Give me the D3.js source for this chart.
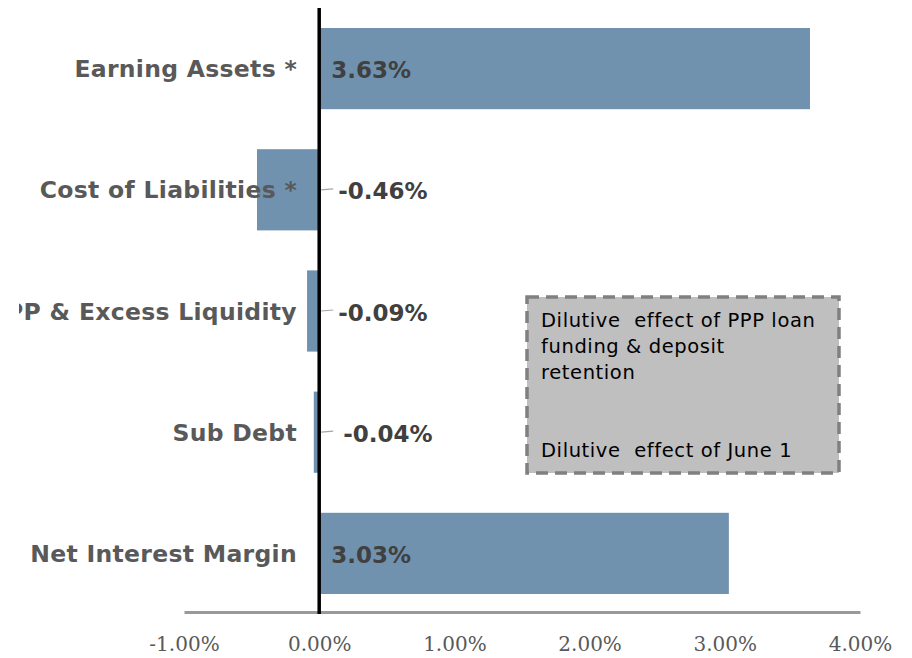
<!DOCTYPE html>
<html>
<head>
<meta charset="utf-8">
<script src="https://cdn.jsdelivr.net/npm/d3@7"></script>
<style>
  body { margin: 0; background: #fff; }
  svg { display: block; }
</style>
</head>
<body>
<svg id="chart"></svg>
<script>
// data
const categories = ['Earning Assets *', 'Cost of Liabilities *', 'PPP & Excess Liquidity', 'Sub Debt', 'Net Interest Margin'];
const values = [3.63, -0.46, -0.09, -0.04, 3.03];
const labels = ['3.63%', '-0.46%', '-0.09%', '-0.04%', '3.03%'];
const ticks = [-1, 0, 1, 2, 3, 4];
const noteLines = ['Dilutive  effect of PPP loan', 'funding & deposit', 'retention', '', '', 'Dilutive  effect of June 1'];

const width = 912, height = 658;
const svg = d3.select('#chart').attr('width', width).attr('height', height);

const x = d3.scaleLinear().domain([-1, 4]).range([184, 860]);
const y = d3.scaleBand().domain(categories).range([8, 614]).paddingInner(0.33).paddingOuter(0.165);

// clip so the long label gets cut like the original
svg.append('clipPath').attr('id', 'clip')
  .append('rect').attr('x', 19).attr('y', 0).attr('width', width).attr('height', height);

// bars
svg.selectAll('rect.bar')
  .data(values)
  .enter()
  .append('rect')
  .attr('class', 'bar')
  .attr('x', (d) => x(Math.min(0, d)))
  .attr('y', (d, i) => y(categories[i]))
  .attr('width', (d) => Math.abs(x(d) - x(0)))
  .attr('height', y.bandwidth())
  .attr('fill', '#7092ae');

// x axis
const xAxis = d3.axisBottom(x).tickValues(ticks).tickSize(0).tickPadding(25)
  .tickFormat((d) => d.toFixed(2) + '%');
const gx = svg.append('g')
  .attr('transform', `translate(0, 612)`)
  .call(xAxis);
gx.select('.domain').attr('stroke', '#999').attr('stroke-width', 3);
gx.selectAll('text')
  .attr('fill', '#595959')
  .style('font-family', '"DejaVu Serif", Georgia, serif')
  .style('font-size', '20px');

// zero line
svg.append('line')
  .attr('x1', x(0)).attr('x2', x(0))
  .attr('y1', 8).attr('y2', 614)
  .attr('stroke', '#000').attr('stroke-width', 3.5);

// category labels
svg.append('g').attr('clip-path', 'url(#clip)')
  .selectAll('text')
  .data(categories)
  .enter()
  .append('text')
  .attr('x', 297)
  .attr('y', (d) => y(d) + y.bandwidth() / 2 + 2)
  .attr('text-anchor', 'end')
  .attr('dominant-baseline', 'middle')
  .attr('fill', '#595959')
  .style('font-family', '"DejaVu Sans", Verdana, sans-serif')
  .style('font-weight', 'bold')
  .style('font-size', '23.5px')
  .style('letter-spacing', '0.3px')
  .text((d) => d);

// leader lines for negative values
svg.selectAll('line.leader')
  .data(values.map((v, i) => [v, i]).filter((d) => d[0] < 0))
  .enter()
  .append('line')
  .attr('x1', x(0) + 2).attr('x2', x(0) + 14)
  .attr('y1', (d) => y(categories[d[1]]) + y.bandwidth() / 2)
  .attr('y2', (d) => y(categories[d[1]]) + y.bandwidth() / 2 - 1)
  .attr('stroke', '#a6a6a6').attr('stroke-width', 1.2);

// value labels
svg.selectAll('text.val')
  .data(values)
  .enter()
  .append('text')
  .attr('class', 'val')
  .attr('x', (d, i) => d < 0 ? x(0) + (i === 3 ? 24 : 19) : x(0) + 12)
  .attr('y', (d, i) => y(categories[i]) + y.bandwidth() / 2 + 3)
  .attr('dominant-baseline', 'middle')
  .attr('fill', '#404040')
  .style('font-family', '"DejaVu Sans", Verdana, sans-serif')
  .style('font-weight', 'bold')
  .style('font-size', '23px')
  .text((d, i) => labels[i]);

// annotation box
svg.append('rect')
  .attr('x', 527).attr('y', 297)
  .attr('width', 312).attr('height', 176)
  .attr('fill', '#bfbfbf')
  .attr('stroke', '#808080')
  .attr('stroke-width', 3.5)
  .attr('stroke-dasharray', '12 7');

svg.append('g').selectAll('text')
  .data(noteLines)
  .enter()
  .append('text')
  .attr('x', 541)
  .attr('y', (d, i) => 327 + i * 26)
  .attr('fill', '#000')
  .style('white-space', 'pre')
  .style('font-family', '"DejaVu Sans", Verdana, sans-serif')
  .style('font-size', '19.5px')
  .style('letter-spacing', '0.6px')
  .text((d) => d);
</script>
</body>
</html>
